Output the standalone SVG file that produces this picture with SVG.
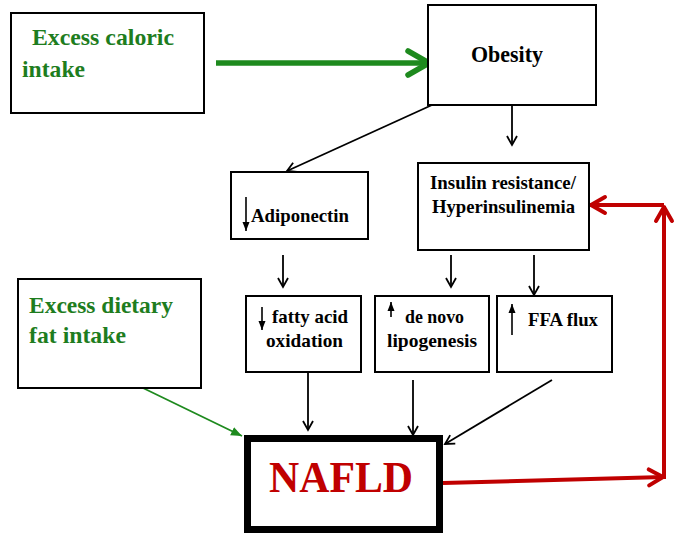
<svg xmlns="http://www.w3.org/2000/svg" width="685" height="537" viewBox="0 0 685 537">
<style>
.box{fill:#fff;stroke:#000;stroke-width:2}
text{font-family:'Liberation Serif','Times New Roman',serif;font-weight:bold}
.lbl{font-size:19px;fill:#000}
.glbl{font-size:23px;fill:#1e7d1e}
.blk{stroke:#000;stroke-width:1.8;fill:none}
.red{stroke:#c00000;stroke-width:4;fill:none}
</style>
<defs>
<marker id="openBlack" viewBox="0 0 12 12" markerWidth="12" markerHeight="12" refX="10" refY="6" orient="auto" markerUnits="userSpaceOnUse">
<path d="M1,1 L10,6 L1,11" fill="none" stroke="#000" stroke-width="1.8"/>
</marker>
<marker id="smallFilled" viewBox="0 0 10 8" markerWidth="10" markerHeight="8" refX="9" refY="4" orient="auto" markerUnits="userSpaceOnUse">
<path d="M0,0.5 L9,4 L0,7.5 Z" fill="#000"/>
</marker>
<marker id="greenFilled" viewBox="0 0 12 10" markerWidth="12" markerHeight="10" refX="11" refY="5" orient="auto" markerUnits="userSpaceOnUse">
<path d="M0,0.5 L11,5 L0,9.5 Z" fill="#1e8a1e"/>
</marker>
<marker id="greenBig" viewBox="0 0 30 30" markerWidth="30" markerHeight="30" refX="26" refY="15" orient="auto" markerUnits="userSpaceOnUse">
<path d="M4,3 L25,15 L4,27" fill="none" stroke="#1e8a1e" stroke-width="5.5" stroke-linecap="round" stroke-linejoin="round"/>
</marker>
<marker id="redHead" viewBox="0 0 22 22" markerWidth="22" markerHeight="22" refX="19" refY="11" orient="auto" markerUnits="userSpaceOnUse">
<path d="M4,3 L18,11 L4,19" fill="none" stroke="#c00000" stroke-width="4" stroke-linecap="round" stroke-linejoin="round"/>
</marker>
</defs>

<g id="connectors">
<line x1="216" y1="63" x2="430" y2="63" stroke="#1e8a1e" stroke-width="5.5" marker-end="url(#greenBig)"/>
<line class="blk" x1="432" y1="105" x2="287" y2="171" marker-end="url(#openBlack)"/>
<line class="blk" x1="512" y1="105" x2="512" y2="145" marker-end="url(#openBlack)"/>
<line class="blk" x1="283" y1="255" x2="283" y2="287" marker-end="url(#openBlack)"/>
<line class="blk" x1="451" y1="255" x2="451" y2="287" marker-end="url(#openBlack)"/>
<line class="blk" x1="534" y1="255" x2="534" y2="295" marker-end="url(#openBlack)"/>
<line class="blk" x1="308" y1="372" x2="308" y2="430" marker-end="url(#openBlack)"/>
<line class="blk" x1="413" y1="380" x2="413" y2="435" marker-end="url(#openBlack)"/>
<line class="blk" x1="552" y1="380" x2="445" y2="444" marker-end="url(#openBlack)"/>
<line x1="143" y1="388" x2="242" y2="436" stroke="#1e8a1e" stroke-width="1.8" marker-end="url(#greenFilled)"/>
<line class="red" x1="443" y1="483" x2="664" y2="477" marker-end="url(#redHead)"/>
<line class="red" x1="664" y1="479" x2="664" y2="206" marker-end="url(#redHead)"/>
<line class="red" x1="664" y1="205" x2="590" y2="205" marker-end="url(#redHead)"/>
</g>

<g id="excess-caloric">
<rect class="box" x="11" y="13" width="193" height="100"/>
<text class="glbl" x="32" y="45" textLength="142" lengthAdjust="spacingAndGlyphs">Excess caloric</text>
<text class="glbl" x="22" y="77" textLength="63" lengthAdjust="spacingAndGlyphs">intake</text>
</g>

<g id="obesity">
<rect class="box" x="428" y="5" width="168" height="100"/>
<text class="lbl" x="471" y="62" style="font-size:24px" textLength="72" lengthAdjust="spacingAndGlyphs">Obesity</text>
</g>

<g id="adiponectin">
<rect class="box" x="231" y="172" width="137" height="67"/>
<line x1="246" y1="197" x2="246" y2="231" stroke="#000" stroke-width="1.6" marker-end="url(#smallFilled)"/>
<text class="lbl" x="251" y="222" textLength="98" lengthAdjust="spacingAndGlyphs">Adiponectin</text>
</g>

<g id="insulin">
<rect class="box" x="418" y="163" width="171" height="87"/>
<text class="lbl" x="430" y="189" textLength="146" lengthAdjust="spacingAndGlyphs">Insulin resistance/</text>
<text class="lbl" x="432" y="213" textLength="143" lengthAdjust="spacingAndGlyphs">Hyperinsulinemia</text>
</g>

<g id="excess-dietary">
<rect class="box" x="18" y="279" width="183" height="109"/>
<text class="glbl" x="29" y="313" textLength="144" lengthAdjust="spacingAndGlyphs">Excess dietary</text>
<text class="glbl" x="29" y="343" textLength="97" lengthAdjust="spacingAndGlyphs">fat intake</text>
</g>

<g id="fatty-acid">
<rect class="box" x="246" y="296" width="115" height="76"/>
<line x1="262" y1="307" x2="262" y2="330" stroke="#000" stroke-width="1.6" marker-end="url(#smallFilled)"/>
<text class="lbl" x="272" y="323" textLength="76" lengthAdjust="spacingAndGlyphs">fatty acid</text>
<text class="lbl" x="266" y="347" textLength="77" lengthAdjust="spacingAndGlyphs">oxidation</text>
</g>

<g id="de-novo">
<rect class="box" x="375" y="296" width="114" height="76"/>
<line x1="391" y1="317" x2="391" y2="302" stroke="#000" stroke-width="1.6" marker-end="url(#smallFilled)"/>
<text class="lbl" x="405" y="323" textLength="59" lengthAdjust="spacingAndGlyphs">de novo</text>
<text class="lbl" x="387" y="347" textLength="90" lengthAdjust="spacingAndGlyphs">lipogenesis</text>
</g>

<g id="ffa-flux">
<rect class="box" x="497" y="296" width="115" height="76"/>
<line x1="512" y1="335" x2="512" y2="304" stroke="#000" stroke-width="1.6" marker-end="url(#smallFilled)"/>
<text class="lbl" x="528" y="326" textLength="70" lengthAdjust="spacingAndGlyphs">FFA flux</text>
</g>

<g id="nafld">
<rect x="247.5" y="438.5" width="192" height="91" fill="#fff" stroke="#000" stroke-width="7"/>
<text x="269" y="492" style="font-size:45px" fill="#c00000" textLength="144" lengthAdjust="spacingAndGlyphs">NAFLD</text>
</g>
</svg>
